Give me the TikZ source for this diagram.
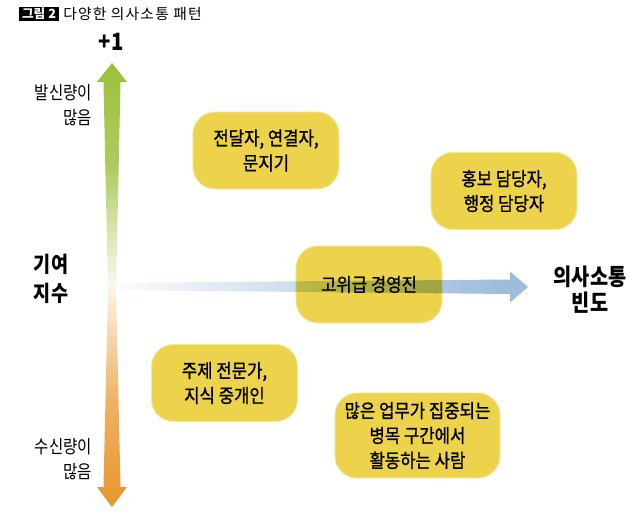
\documentclass[tikz,border=0pt]{standalone}
\usepackage{fontspec}
\newfontfamily\kr{Noto Sans CJK KR}[FakeStretch=0.85]
\newfontfamily\krbox{Noto Sans CJK KR}[FakeStretch=0.88, FakeBold=1]
\newfontfamily\krplain{Noto Sans CJK KR}
\usetikzlibrary{positioning}
\definecolor{boxyellow}{HTML}{ECD34B}
\definecolor{sendgreen}{HTML}{9CC03C}
\definecolor{recvorange}{HTML}{E8952C}
\definecolor{freqblue}{HTML}{8CB2D4}
\colorlet{sendpale}{sendgreen!6!white}
\colorlet{sendmid}{sendgreen!40!white}
\colorlet{sendstrong}{sendgreen!82!white}
\colorlet{recvpale}{recvorange!12!white}
\colorlet{recvmid}{recvorange!42!white}
\colorlet{recvstrong}{recvorange!75!white}
\colorlet{freqmid}{freqblue!45!white}
\pgfdeclareverticalshading{sendfade}{100bp}{color(0bp)=(sendpale); color(25bp)=(sendpale); color(38bp)=(sendmid); color(52bp)=(sendstrong); color(75bp)=(sendgreen); color(100bp)=(sendgreen)}
\pgfdeclareverticalshading{recvfade}{100bp}{color(0bp)=(recvorange); color(25bp)=(recvorange); color(48bp)=(recvstrong); color(63bp)=(recvmid); color(75bp)=(recvpale); color(100bp)=(recvpale)}
\pgfdeclarehorizontalshading{freqfade}{100bp}{color(0bp)=(white); color(25bp)=(white); color(45bp)=(freqmid); color(72bp)=(freqblue); color(100bp)=(freqblue)}

\begin{document}
\begin{tikzpicture}[x=0.025cm,y=-0.025cm,
  patternbox/.style={draw=boxyellow!55!white, line width=0.6pt, fill=boxyellow,
    rounded corners=0.55cm, minimum width=3.65cm, minimum height=1.925cm,
    align=center, inner sep=2pt, font=\krbox\fontsize{13.5}{17.7}\selectfont},
  axislabel/.style={font=\kr\bfseries\fontsize{15.5}{20.5}\selectfont},
  sidelabel/.style={anchor=east, align=right, font=\kr\fontsize{13}{17.7}\selectfont}]
\useasboundingbox (0,0) rectangle (640,526);

% title
\node[fill=black, text=white, inner xsep=2pt, inner ysep=1pt, anchor=west,
  font=\krplain\bfseries\fontsize{9}{9}\selectfont] (fignum) at (19,14) {그림 2};
\node[right=0.1cm of fignum, inner sep=0pt,
  font=\krplain\fontsize{10.5}{11}\selectfont\addfontfeature{LetterSpace=8}] (title) {다양한 의사소통 패턴};

% vertical axis: contribution index
\shade[shading=sendfade] (112,63) -- (127,82) -- (120.5,82) -- (116,290) -- (108,290)
  -- (103.5,82) -- (97,82) -- cycle;
\shade[shading=recvfade] (108,290) -- (116,290) -- (120.5,487) -- (127,487) -- (112,507)
  -- (97,487) -- (103.5,487) -- cycle;
\node[font=\kr\bfseries\fontsize{17}{17}\selectfont] (plusone) at (111,42) {+1};
\node[sidelabel] (sendlbl) at (97,105.5) {발신량이\\많음};
\node[sidelabel] (recvlbl) at (97,459) {수신량이\\많음};
\node[axislabel, anchor=west, align=left] (contrib) at (29,278.5) {기여\\지수};

% communication patterns
\node[patternbox] (broker) at (266,150.5) {전달자, 연결자,\\문지기};
\node[patternbox] (pr) at (504,191) {홍보 담당자,\\행정 담당자};
\node[patternbox] (exec) at (369,284.5) {고위급 경영진};
\node[patternbox] (expert) at (224.5,383) {주제 전문가,\\지식 중개인};
\node[patternbox, minimum width=4.125cm, minimum height=2.125cm] (bottleneck) at (417.5,435.5)
  {많은 업무가 집중되는\\병목 구간에서\\활동하는 사람};

% horizontal axis: communication frequency
\shade[shading=freqfade, blend mode=multiply, fill opacity=0.85]
  (100,283) -- (510,279.5) -- (510,271.5) -- (528,287) -- (510,302.5) -- (510,294)
  -- (100,290) -- cycle;
\node[axislabel, align=center, font=\kr\bfseries\fontsize{16.5}{18.6}\selectfont] (freq) at (590,290) {의사소통\\빈도};
\end{tikzpicture}
\end{document}
